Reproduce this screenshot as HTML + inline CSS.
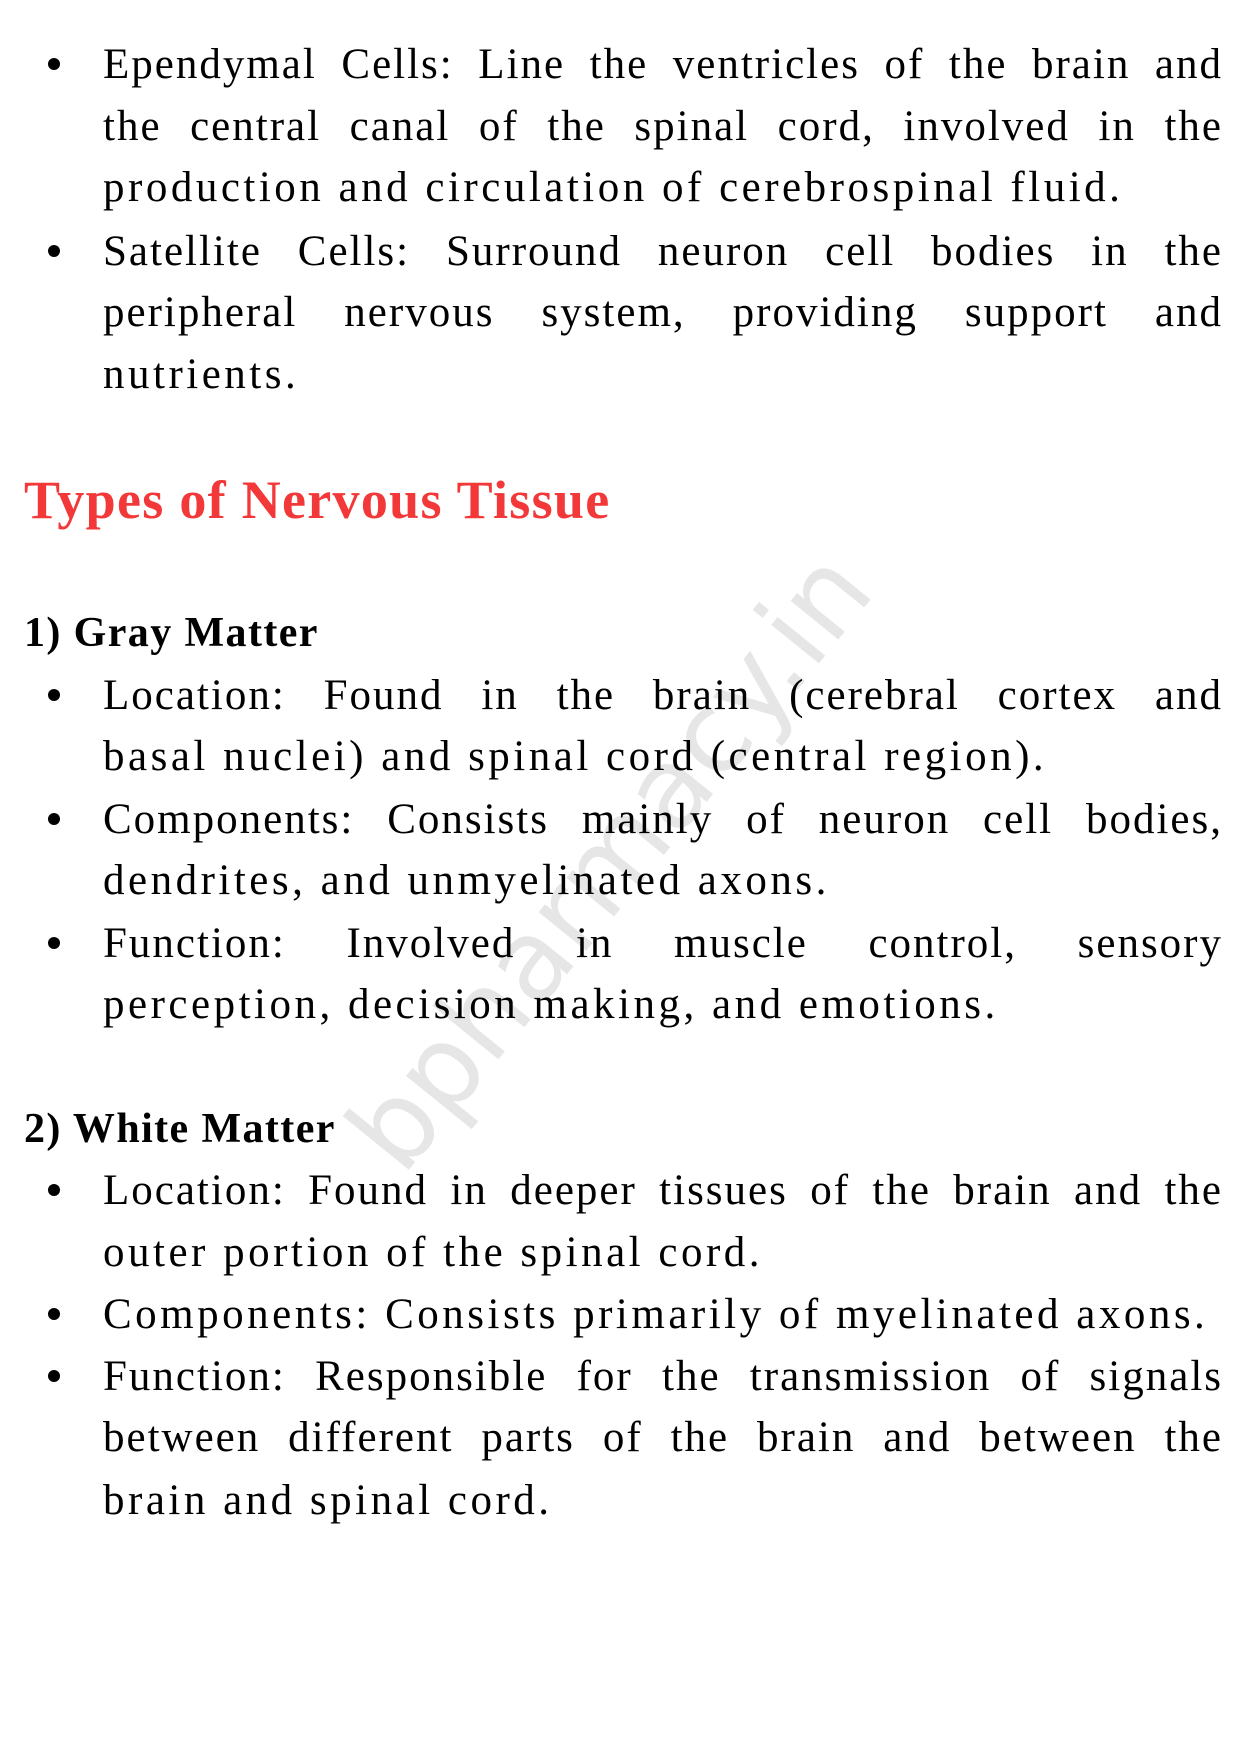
<!DOCTYPE html>
<html><head><meta charset="utf-8"><style>
html,body{margin:0;padding:0;background:#fff;}
body{width:1241px;height:1754px;position:relative;overflow:hidden;font-family:"Liberation Serif",serif;color:#000;}
.l{position:absolute;left:103px;width:1120px;font-size:43px;line-height:43px;white-space:nowrap;letter-spacing:3.5px;}
.j{white-space:normal;text-align:justify;text-align-last:justify;letter-spacing:2px;}
.b{position:absolute;left:48px;width:12px;height:12px;border-radius:50%;background:#000;}
.h{position:absolute;left:24px;font-weight:bold;font-size:42px;line-height:42px;white-space:nowrap;letter-spacing:1.4px;}
.wm{position:absolute;left:610px;top:861px;transform:translate(-50%,-50%) rotate(-51deg);font-family:"DejaVu Sans",sans-serif;font-size:112px;color:#e6e6e6;white-space:nowrap;}
</style></head><body>
<div class="wm">bpharmacy.in</div>

<div class="b" style="top:58px"></div>
<div class="l j" style="top:43px">Ependymal Cells: Line the ventricles of the brain and</div>
<div class="l j" style="top:105px">the central canal of the spinal cord, involved in the</div>
<div class="l" style="top:166px">production and circulation of cerebrospinal fluid.</div>
<div class="b" style="top:245px"></div>
<div class="l j" style="top:230px">Satellite Cells: Surround neuron cell bodies in the</div>
<div class="l j" style="top:291px">peripheral nervous system, providing support and</div>
<div class="l" style="top:353px">nutrients.</div>

<div class="h" style="top:473px;color:#f23838;font-size:54px;line-height:54px;letter-spacing:1.3px">Types of Nervous Tissue</div>

<div class="h" style="top:612px">1) Gray Matter</div>
<div class="b" style="top:689px"></div>
<div class="l j" style="top:674px">Location: Found in the brain (cerebral cortex and</div>
<div class="l" style="top:735px">basal nuclei) and spinal cord (central region).</div>
<div class="b" style="top:813px"></div>
<div class="l j" style="top:798px">Components: Consists mainly of neuron cell bodies,</div>
<div class="l" style="top:859px">dendrites, and unmyelinated axons.</div>
<div class="b" style="top:937px"></div>
<div class="l j" style="top:922px">Function: Involved in muscle control, sensory</div>
<div class="l" style="top:983px">perception, decision making, and emotions.</div>

<div class="h" style="top:1108px">2) White Matter</div>
<div class="b" style="top:1184px"></div>
<div class="l j" style="top:1169px">Location: Found in deeper tissues of the brain and the</div>
<div class="l" style="top:1231px">outer portion of the spinal cord.</div>
<div class="b" style="top:1308px"></div>
<div class="l" style="top:1293px;letter-spacing:3.5px">Components: Consists primarily of myelinated axons.</div>
<div class="b" style="top:1370px"></div>
<div class="l j" style="top:1355px">Function: Responsible for the transmission of signals</div>
<div class="l j" style="top:1416px">between different parts of the brain and between the</div>
<div class="l" style="top:1479px">brain and spinal cord.</div>
</body></html>
